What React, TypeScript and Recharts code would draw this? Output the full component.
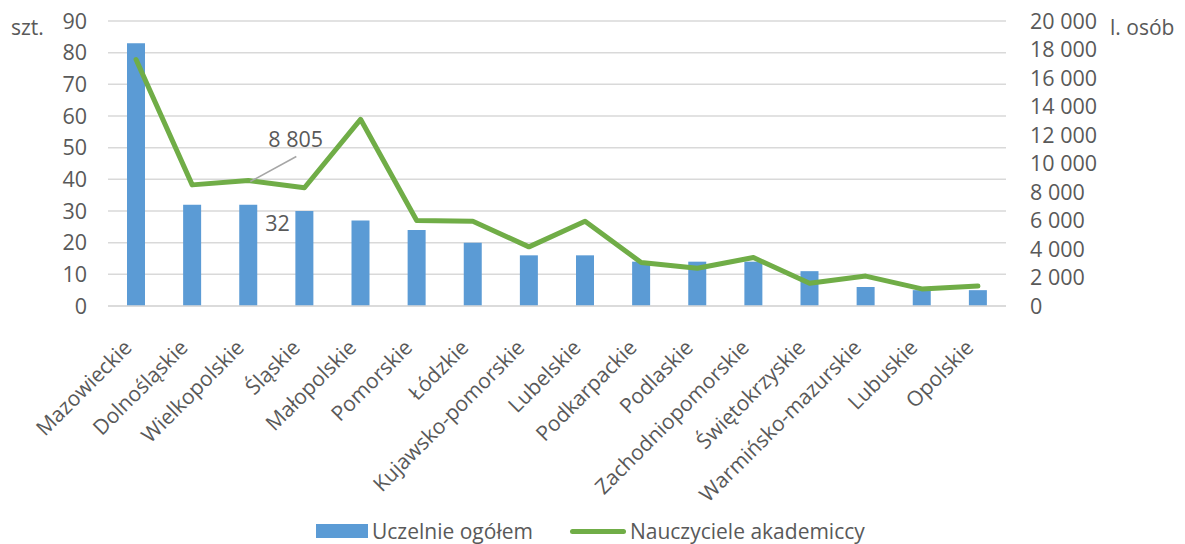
import React from 'react';
import {
  ComposedChart,
  Bar,
  Line,
  XAxis,
  YAxis,
  CartesianGrid,
  Legend,
  LabelList,
  Customized,
} from 'recharts';

const categories = [
  'Mazowieckie',
  'Dolnośląskie',
  'Wielkopolskie',
  'Śląskie',
  'Małopolskie',
  'Pomorskie',
  'Łódzkie',
  'Kujawsko-pomorskie',
  'Lubelskie',
  'Podkarpackie',
  'Podlaskie',
  'Zachodniopomorskie',
  'Świętokrzyskie',
  'Warmińsko-mazurskie',
  'Lubuskie',
  'Opolskie',
];
const uczelnie = [83, 32, 32, 30, 27, 24, 20, 16, 16, 14, 14, 14, 11, 6, 5, 5];
const nauczyciele = [17300, 8500, 8805, 8300, 13100, 6000, 5950, 4150, 5950, 3050, 2650, 3400, 1600, 2100, 1200, 1400];
const leftTicks = [0, 10, 20, 30, 40, 50, 60, 70, 80, 90];
const rightTicks = [0, 2000, 4000, 6000, 8000, 10000, 12000, 14000, 16000, 18000, 20000];
const seriesNames = ['Uczelnie ogółem', 'Nauczyciele akademiccy'];
const leftUnit = 'szt.';
const rightUnit = 'l. osób';
const labelledIndex = 2;

const data = categories.map((c, i) => ({ name: c, u: uczelnie[i], n: nauczyciele[i] }));

const FONT = '"Open Sans", sans-serif';
const TEXT = '#595959';
const BLUE = '#5b9bd5';
const GREEN = '#70ad47';
const GRID = '#d9d9d9';
const NUM_SIZE = 21.5;
const TXT_SIZE = 21;

const fmt = (v: number) => {
  const s = String(v);
  return s.replace(/\B(?=(\d{3})+(?!\d))/g, '\u00a0');
};

const XTick = (props: any) => {
  const { x, payload } = props;
  const ax = x - 3;
  const ay = 349;
  return (
    <text
      x={ax}
      y={ay}
      transform={`rotate(-45, ${ax}, ${ay})`}
      textAnchor="end"
      fill={TEXT}
      fontSize={TXT_SIZE}
      fontFamily={FONT}
    >
      {payload.value}
    </text>
  );
};

const LeftTick = (props: any) => {
  const { y, payload } = props;
  return (
    <text x={87} y={y} dy={7.5} textAnchor="end" fill={TEXT} fontSize={NUM_SIZE} fontFamily={FONT}>
      {payload.value}
    </text>
  );
};

const RightTick = (props: any) => {
  const { y, payload } = props;
  return (
    <text x={1030} y={y} dy={7.5} textAnchor="start" fill={TEXT} fontSize={NUM_SIZE} fontFamily={FONT}>
      {fmt(payload.value)}
    </text>
  );
};

const BarLabel = (props: any) => {
  const { x, y, width, index, value } = props;
  if (index !== labelledIndex) return null;
  return (
    <text x={x + width + 8} y={y + 26} fill={TEXT} fontSize={NUM_SIZE} fontFamily={FONT}>
      {value}
    </text>
  );
};

const LineLabel = (props: any) => {
  const { x, y, index, value } = props;
  if (index !== labelledIndex) return null;
  return (
    <g>
      <line x1={x + 2} y1={y + 1} x2={x + 48} y2={y - 24} stroke="#a6a6a6" strokeWidth={1.5} />
      <text x={x + 20} y={y - 34} fill={TEXT} fontSize={NUM_SIZE} fontFamily={FONT}>
        {fmt(value)}
      </text>
    </g>
  );
};

const Units = () => (
  <g>
    <text x={11} y={35} fill={TEXT} fontSize={TXT_SIZE} fontFamily={FONT}>
      {leftUnit}
    </text>
    <text x={1110} y={35} fill={TEXT} fontSize={TXT_SIZE} fontFamily={FONT}>
      {rightUnit}
    </text>
  </g>
);

const LegendContent = () => (
  <div
    style={{
      display: 'flex',
      justifyContent: 'flex-start',
      alignItems: 'center',
      fontFamily: FONT,
      fontSize: TXT_SIZE,
      color: TEXT,
      paddingLeft: 316,
      paddingTop: 12,
      height: 26,
      lineHeight: '26px',
    }}
  >
    <span style={{ display: 'inline-block', width: 52, height: 14, background: BLUE, marginRight: 4 }} />
    <span>{seriesNames[0]}</span>
    <span
      style={{
        display: 'inline-block',
        width: 56,
        height: 5,
        borderRadius: 3,
        background: GREEN,
        marginLeft: 37,
        marginRight: 4,
      }}
    />
    <span>{seriesNames[1]}</span>
  </div>
);

export default function App() {
  return (
    <div style={{ position: 'absolute', left: 0, top: 0, background: '#fff' }}>
      <ComposedChart
        width={1185}
        height={544}
        data={data}
        margin={{ top: 21, right: 0, bottom: 0, left: 0 }}
        barCategoryGap="34%"
      >
        <CartesianGrid vertical={false} stroke={GRID} strokeWidth={1.5} yAxisId="left" />
        <XAxis
          dataKey="name"
          interval={0}
          height={200}
          tickLine={false}
          axisLine={{ stroke: GRID, strokeWidth: 1.5 }}
          tick={<XTick />}
        />
        <YAxis
          yAxisId="left"
          orientation="left"
          width={108}
          domain={[0, 90]}
          ticks={leftTicks}
          axisLine={false}
          tickLine={false}
          tick={<LeftTick />}
          allowDataOverflow
        />
        <YAxis
          yAxisId="right"
          orientation="right"
          width={179}
          domain={[0, 20000]}
          ticks={rightTicks}
          axisLine={false}
          tickLine={false}
          tick={<RightTick />}
          allowDataOverflow
        />
        <Legend verticalAlign="bottom" height={38} content={<LegendContent />} />
        <Bar yAxisId="left" dataKey="u" name={seriesNames[0]} fill={BLUE} barSize={18} isAnimationActive={false}>
          <LabelList dataKey="u" content={<BarLabel />} />
        </Bar>
        <Line
          yAxisId="right"
          dataKey="n"
          name={seriesNames[1]}
          stroke={GREEN}
          strokeWidth={5}
          dot={false}
          activeDot={false}
          strokeLinejoin="round"
          strokeLinecap="round"
          isAnimationActive={false}
        >
          <LabelList dataKey="n" content={<LineLabel />} />
        </Line>
        <Customized component={Units} />
      </ComposedChart>
    </div>
  );
}
